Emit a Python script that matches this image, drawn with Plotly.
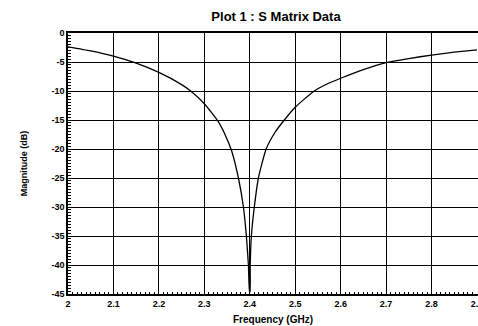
import plotly.graph_objects as go

freq = [2.0, 2.05, 2.1, 2.15, 2.2, 2.25, 2.27, 2.3, 2.33, 2.345, 2.36, 2.375, 2.386, 2.3925, 2.397,
        2.3995, 2.4005, 2.401, 2.4035, 2.41, 2.419, 2.436, 2.455, 2.476, 2.5, 2.52, 2.542, 2.57, 2.6,
        2.65, 2.7, 2.75, 2.8, 2.85, 2.9]
mag = [-2.4, -3.1, -4.0, -5.2, -6.8, -8.9, -10.0, -12.2, -15.2, -17.4, -20.3, -25.0, -30.0, -35.0, -40.0,
       -44.6, -44.6, -40.0, -35.0, -30.0, -25.0, -20.0, -17.2, -15.0, -12.8, -11.4, -10.0, -8.8, -7.8,
       -6.3, -5.1, -4.4, -3.8, -3.3, -2.9]

x_ticks = [2.0, 2.1, 2.2, 2.3, 2.4, 2.5, 2.6, 2.7, 2.8, 2.9]
x_tick_text = ["2", "2.1", "2.2", "2.3", "2.4", "2.5", "2.6", "2.7", "2.8", "2.9"]
y_ticks = [0, -5, -10, -15, -20, -25, -30, -35, -40, -45]
y_tick_text = ["0", "-5", "-10", "-15", "-20", "-25", "-30", "-35", "-40", "-45"]

# small tick marks: all positions (labels only at the major values)
x_all = [round(2.0 + i * 0.01, 3) for i in range(91)]
x_all_text = [x_tick_text[x_ticks.index(v)] if v in x_ticks else "" for v in x_all]
y_all = [-i * 0.5 for i in range(91)]
y_all_text = [y_tick_text[y_ticks.index(v)] if v in y_ticks else "" for v in y_all]

FONT = "Liberation Sans, Arial, sans-serif"

fig = go.Figure()
fig.add_trace(go.Scatter(x=freq, y=mag, mode="lines",
                         line=dict(color="black", width=1.3, shape="spline", smoothing=0.5),
                         showlegend=False))

fig.update_layout(
    width=478, height=326,
    margin=dict(l=68, r=0, t=33, b=32),
    paper_bgcolor="white", plot_bgcolor="white",
    title=dict(text="<b>Plot 1 : S Matrix Data</b>", x=276 / 478, xanchor="center", y=1 - 16 / 326, yanchor="middle",
               font=dict(family=FONT, size=13, color="black")),
    font=dict(family=FONT, color="black"),
    xaxis=dict(range=[2.0, 2.9022], tickmode="array", tickvals=x_all, ticktext=x_all_text,
               showgrid=False, ticklabeloverflow="allow", automargin=False,
               showline=True, linecolor="black", linewidth=1.5, mirror=True,
               ticks="inside", ticklen=2, tickwidth=1, tickcolor="black", zeroline=False,
               tickfont=dict(family=FONT, size=9, color="black", weight="bold"),
               minor=dict(tickvals=x_ticks, showgrid=True, gridcolor="black", gridwidth=1.4, ticks=""),
               title=dict(text="<b>Frequency (GHz)</b>", font=dict(family=FONT, size=10, color="black"), standoff=8)),
    yaxis=dict(range=[-45, 0], tickmode="array", tickvals=y_all, ticktext=y_all_text,
               showgrid=False, automargin=False,
               showline=True, linecolor="black", linewidth=1.5, mirror=False,
               ticks="inside", ticklen=3, tickwidth=1, tickcolor="black", zeroline=False,
               tickfont=dict(family=FONT, size=9, color="black", weight="bold"),
               minor=dict(tickvals=y_ticks, showgrid=True, gridcolor="black", gridwidth=1.4, ticks=""),
               title=dict(text="<b>Magnitude (dB)</b>", font=dict(family=FONT, size=9, color="black"), standoff=22)),
)

fig.write_html("out.html")
